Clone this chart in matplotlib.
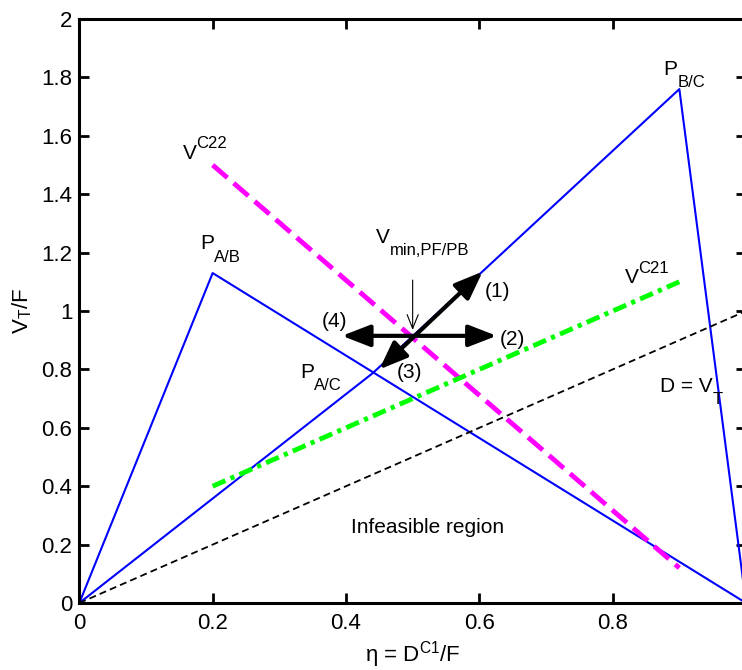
import matplotlib
matplotlib.use("Agg")
import matplotlib.pyplot as plt
from matplotlib.ticker import FuncFormatter

# boundary of feasible region (blue)
pab_x = [0, 0.2, 1]
pab_y = [0, 1.13, 0]
pbc_x = [0, 0.44, 0.9, 1]
pbc_y = [0, 0.787, 1.76, 0]

# constraint lines
vc22_x = [0.2, 0.9]
vc22_y = [1.5, 0.12]
vc21_x = [0.2, 0.9]
vc21_y = [0.4, 1.1]
dvt_x = [0, 1]
dvt_y = [0, 1]

# direction arrows around V_min
arrow_ends = [(0.605, 1.135), (0.626, 0.915), (0.45, 0.80), (0.394, 0.915)]

xticks = [0, 0.2, 0.4, 0.6, 0.8, 1]
yticks = [0, 0.2, 0.4, 0.6, 0.8, 1, 1.2, 1.4, 1.6, 1.8, 2]

plt.rcParams['font.family'] = ['Liberation Sans', 'DejaVu Sans']
plt.rcParams['mathtext.fontset'] = 'custom'
plt.rcParams['mathtext.rm'] = 'Liberation Sans'
plt.rcParams['mathtext.it'] = 'Liberation Sans:italic'
plt.rcParams['lines.scale_dashes'] = False

fs = 15
fs_small = 12
fs_tick = 16

fig = plt.figure(figsize=(7.42, 6.70), dpi=100)
ax = fig.add_axes([0.1069, 0.1, 0.8985, 0.8716])
renderer = fig.canvas.get_renderer()

ax.plot(pab_x, pab_y, color='#0000ff', lw=1.5)
ax.plot(pbc_x, pbc_y, color='#0000ff', lw=1.5)
ax.plot(vc22_x, vc22_y, color='#ff00ff', lw=3.5, dashes=(14, 6))
ax.plot(vc21_x, vc21_y, color='#00ff00', lw=3.5, dashes=(10, 4, 3, 4))
ax.plot(dvt_x, dvt_y, color='black', lw=1.3, dashes=(5, 3))

# thick double arrows (1)-(3) and (2)-(4)
for a, b in [(arrow_ends[0], arrow_ends[2]), (arrow_ends[1], arrow_ends[3])]:
    ax.annotate('', xy=a, xytext=b,
                arrowprops=dict(arrowstyle='<|-|>,head_length=0.9,head_width=0.35',
                                lw=3, color='black', shrinkA=0, shrinkB=0,
                                mutation_scale=19))

# thin arrow pointing at V_min
ax.annotate('', xy=(0.5, 0.935), xytext=(0.5, 1.106),
            arrowprops=dict(arrowstyle='->,head_length=0.5,head_width=0.2',
                            lw=0.8, color='black', shrinkA=0, shrinkB=0,
                            mutation_scale=20))


def label(x, y, base, sub=None, sup=None):
    # base text with a MATLAB-like sub/superscript placed after it
    t = ax.text(x, y, base, fontsize=fs)
    w = t.get_window_extent(renderer).width * 72.0 / fig.dpi
    if sub:
        ax.annotate(sub, xy=(x, y), xytext=(w, -9), textcoords='offset points',
                    fontsize=fs_small)
    if sup:
        ax.annotate(sup, xy=(x, y), xytext=(w, 7.5), textcoords='offset points',
                    fontsize=fs_small)


label(0.876, 1.81, 'P', sub='B/C')
label(0.155, 1.522, 'V', sup='C22')
label(0.181, 1.212, 'P', sub='A/B')
label(0.445, 1.233, 'V', sub='min,PF/PB')
ax.text(0.608, 1.048, '(1)', fontsize=fs)
ax.text(0.631, 0.884, '(2)', fontsize=fs)
ax.text(0.476, 0.771, '(3)', fontsize=fs)
ax.text(0.364, 0.945, '(4)', fontsize=fs)
label(0.331, 0.771, 'P', sub='A/C')
label(0.818, 1.096, 'V', sup='C21')
label(0.871, 0.723, 'D = V', sub='T')
ax.text(0.523, 0.24, 'Infeasible region', fontsize=fs, ha='center')

ax.set_xlim(0, 1)
ax.set_ylim(0, 2)
ax.set_xticks(xticks)
ax.set_yticks(yticks)
fmt = FuncFormatter(lambda v, p: '%g' % v)
ax.xaxis.set_major_formatter(fmt)
ax.yaxis.set_major_formatter(fmt)
ax.tick_params(direction='in', length=7, width=2, labelsize=fs_tick, pad=5,
               top=True, right=True)
ax.tick_params(axis='x', pad=7)
for s in ax.spines.values():
    s.set_linewidth(2.2)

ax.set_xlabel(r'η = D$^{\mathrm{C1}}$/F', fontsize=fs_tick, labelpad=4)
ax.set_ylabel(r'V$_{\mathrm{T}}$/F', fontsize=fs_tick, labelpad=5)

fig.savefig('out.png', dpi=100)
